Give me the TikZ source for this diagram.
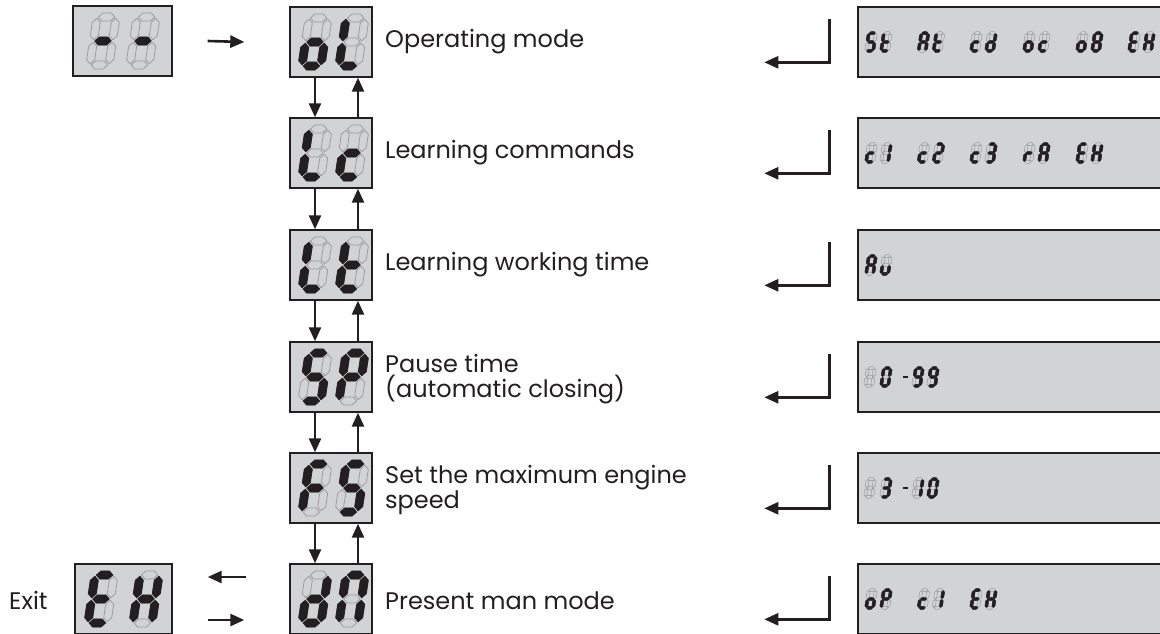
\documentclass[tikz,border=0pt]{standalone}
\usepackage{fontspec}
\setmainfont{Poppins}
\usetikzlibrary{arrows.meta}
\definecolor{ink}{HTML}{231F20}
\definecolor{lcd}{HTML}{D1D3D4}
\definecolor{segoff}{HTML}{9A9A9A}

\def\dW{19}\def\dH{48}\def\dT{8}\def\dG{1.3}
\newcommand\hseg[2]{\path[#1] ({-\dW/2+\dG},{#2}) -- ({-\dW/2+\dG+\dT/2},{#2-\dT/2}) -- ({\dW/2-\dG-\dT/2},{#2-\dT/2}) -- ({\dW/2-\dG},{#2}) -- ({\dW/2-\dG-\dT/2},{#2+\dT/2}) -- ({-\dW/2+\dG+\dT/2},{#2+\dT/2}) -- cycle;}
\newcommand\vseg[4]{\path[#1] ({#2},{#3+\dG}) -- ({#2+\dT/2},{#3+\dG+\dT/2}) -- ({#2+\dT/2},{#4-\dG-\dT/2}) -- ({#2},{#4-\dG}) -- ({#2-\dT/2},{#4-\dG-\dT/2}) -- ({#2-\dT/2},{#3+\dG+\dT/2}) -- cycle;}
\newcommand\sga[1]{\hseg{#1}{-\dH/2}}
\newcommand\sgb[1]{\vseg{#1}{\dW/2}{-\dH/2}{0}}
\newcommand\sgc[1]{\vseg{#1}{\dW/2}{0}{\dH/2}}
\newcommand\sgd[1]{\hseg{#1}{\dH/2}}
\newcommand\sge[1]{\vseg{#1}{-\dW/2}{0}{\dH/2}}
\newcommand\sgf[1]{\vseg{#1}{-\dW/2}{-\dH/2}{0}}
\newcommand\sgg[1]{\hseg{#1}{0}}
\newcommand\digitx[5]{%
  \begin{scope}[shift={(#1,#2)},scale=#3,xslant=0.15]
    \foreach \s in {a,b,c,d,e,f,g}{\csname sg\s\endcsname{draw=segoff,line width=#4}}
    \if\relax\detokenize{#5}\relax\else
      \foreach \s in {#5}{\csname sg\s\endcsname{fill=ink,draw=ink,line width=#4}}
    \fi
  \end{scope}}
\newcommand\bigd[3]{\digitx{#1}{#2}{1}{0.75pt}{#3}}
\newcommand\smalld[3]{\digitx{#1}{#2}{0.37}{0.5pt}{#3}}
\newcommand\hyph[2]{\fill[ink] ({#1-2.5},{#2-1}) rectangle ({#1+2.5},{#2+1.3});}

\begin{document}
\begin{tikzpicture}[x=1pt,y=-1pt,
  lcdbox/.style={draw=ink,fill=lcd,line width=1.4pt,inner sep=0pt,minimum height=70pt},
  arr/.style={-{Triangle[length=14pt,width=12pt]},line width=2.6pt,draw=ink,line join=miter},
  lbl/.style={anchor=west,font=\fontsize{24}{25}\selectfont,text=ink,align=left,inner sep=0pt}]
\useasboundingbox (0,0) rectangle (1160,633);

% start and exit boxes
\node[lcdbox,minimum width=99pt] (start) at (122.5,41) {};
\node[lcdbox,minimum width=97pt] (exit) at (123.5,599) {};
\bigd{103}{41}{g}\bigd{143}{41}{g}
\bigd{101}{599}{a,f,g,e,d}\bigd{146}{599}{b,c,e,f,g}
\node[lbl] (exitlbl) at (9,600) {Exit};

% menu column
\foreach \i/\y in {1/42,2/153,3/265,4/377,5/488,6/599}{
  \node[lcdbox,minimum width=82pt] (m\i) at (331,\y) {};
  \node[lcdbox,minimum width=307pt] (r\i) at (1011.5,\y) {};
}
\bigd{315}{42}{c,d,e,g}\bigd{352}{42}{d,e,f}
\bigd{315}{153}{d,e,f}\bigd{352}{153}{g,e,d}
\bigd{315}{265}{d,e,f}\bigd{352}{265}{f,e,d,g}
\bigd{315}{377}{a,f,g,c,d}\bigd{352}{377}{a,b,f,g,e}
\bigd{315}{488}{a,f,g,e}\bigd{352}{488}{a,f,g,c,d}
\bigd{315}{599}{b,c,d,e,g}\bigd{352}{599}{a,b,c,e,f}

\node[lbl] (t1) at (385,42) {Operating mode};
\node[lbl] (t2) at (385,153) {Learning commands};
\node[lbl] (t3) at (385,265) {Learning working time};
\node[lbl] (t4) at (385,379) {Pause time\\(automatic closing)};
\node[lbl] (t5) at (385,490) {Set the maximum engine\\speed};
\node[lbl] (t6) at (385,601) {Present man mode};

% arrows
\draw[arr] ([xshift=35pt]start.east) -- ([xshift=-45pt]m1.west);
\foreach \a/\b in {1/2,2/3,3/4,4/5,5/6}{
  \draw[arr] ([xshift=-16pt]m\a.south) -- ([xshift=-16pt]m\b.north);
  \draw[arr] ([xshift=27pt]m\b.north) -- ([xshift=27pt]m\a.south);
}
\draw[arr] ([shift={(-43,-22)}]m6.west) -- ([shift={(35,-22)}]exit.east);
\draw[arr] ([shift={(35,21)}]exit.east) -- ([shift={(-45,21)}]m6.west);
\foreach \i in {1,...,6}{
  \draw[arr] ([shift={(-28,13)}]r\i.north west) |- ([shift={(-93,56)}]r\i.north west);
}

% small readouts
% row 1
\smalld{871}{42}{a,f,g,c,d}\smalld{886}{42}{f,g,e,d}
\smalld{923.5}{42}{a,b,c,e,f,g}\smalld{938.5}{42}{f,g,e,d}
\smalld{976}{42}{g,e,d}\smalld{991}{42}{b,c,d,e,g}
\smalld{1029}{42}{c,d,e,g}\smalld{1044}{42}{g,e,d}
\smalld{1082}{42}{c,d,e,g}\smalld{1097}{42}{a,b,c,d,e,f,g}
\smalld{1134}{42}{a,f,g,e,d}\smalld{1149}{42}{b,c,e,f,g}
% row 2
\smalld{871}{153}{g,e,d}\smalld{886}{153}{b,c}
\smalld{923.5}{153}{g,e,d}\smalld{938.5}{153}{a,b,g,e,d}
\smalld{976}{153}{g,e,d}\smalld{991}{153}{a,b,g,c,d}
\smalld{1029}{153}{e,g}\smalld{1044}{153}{a,b,c,e,f,g}
\smalld{1082}{153}{a,f,g,e,d}\smalld{1097}{153}{b,c,e,f,g}
% row 3
\smalld{871}{265}{a,b,c,e,f,g}\smalld{886}{265}{c,d,e}
% row 4
\smalld{870}{377}{}\smalld{886}{377}{a,b,c,d,e,f}\hyph{905}{377}
\smalld{918}{377}{a,b,c,d,f,g}\smalld{933}{377}{a,b,c,d,f,g}
% row 5
\smalld{870}{488}{}\smalld{886}{488}{a,b,g,c,d}\hyph{905}{488}
\smalld{918}{488}{b,c}\smalld{933}{488}{a,b,c,d,e,f}
% row 6
\smalld{871}{599}{c,d,e,g}\smalld{886}{599}{a,b,e,f,g}
\smalld{923.5}{599}{g,e,d}\smalld{938.5}{599}{b,c}
\smalld{976}{599}{a,f,g,e,d}\smalld{991}{599}{b,c,e,f,g}
\end{tikzpicture}
\end{document}
